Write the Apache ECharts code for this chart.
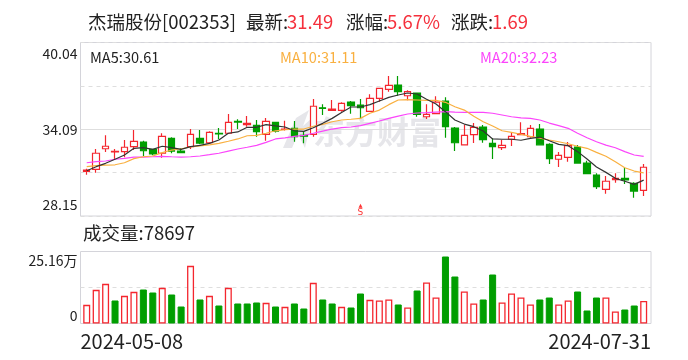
<!DOCTYPE html>
<html>
<head>
<meta charset="utf-8">
<style>html,body{margin:0;padding:0;background:#fff}#c{width:688px;height:360px}</style>
<script src="https://cdn.jsdelivr.net/npm/echarts@6/dist/echarts.min.js"></script>
</head>
<body>
<div id="c"></div>
<script>
const dates = ['2024-05-08','2024-05-09','2024-05-10','2024-05-13','2024-05-14','2024-05-15','2024-05-16','2024-05-17','2024-05-20','2024-05-21','2024-05-22','2024-05-23','2024-05-24','2024-05-27','2024-05-28','2024-05-29','2024-05-30','2024-05-31',
'2024-06-03','2024-06-04','2024-06-05','2024-06-06','2024-06-07','2024-06-11','2024-06-12','2024-06-13','2024-06-14','2024-06-17','2024-06-18','2024-06-19','2024-06-20','2024-06-21','2024-06-24','2024-06-25','2024-06-26','2024-06-27','2024-06-28',
'2024-07-01','2024-07-02','2024-07-03','2024-07-04','2024-07-05','2024-07-08','2024-07-09','2024-07-10','2024-07-11','2024-07-12','2024-07-15','2024-07-16','2024-07-17','2024-07-18','2024-07-19','2024-07-22','2024-07-23','2024-07-24','2024-07-25','2024-07-26','2024-07-29','2024-07-30','2024-07-31'];
const opens = [31.21,31.35,32.76,32.54,32.56,32.90,33.22,32.72,32.45,33.47,32.60,32.90,33.47,33.17,33.82,33.82,34.64,34.41,34.36,33.75,
34.57,34.08,34.16,33.67,33.75,35.57,35.39,35.39,35.96,35.75,35.32,36.21,36.83,37.12,36.39,36.58,34.95,35.16,36.03,34.18,
33.03,33.72,34.25,33.13,32.83,33.41,33.72,33.58,34.11,33.06,32.04,32.17,32.88,31.78,30.96,29.98,30.64,30.73,30.39,29.91];
const closes = [31.30,32.45,32.93,32.58,32.86,33.27,32.62,32.40,33.61,32.60,32.49,33.75,33.15,33.88,33.77,34.57,34.59,34.50,33.93,34.64,
33.97,34.11,33.58,33.62,35.67,35.53,35.48,35.87,35.71,35.57,36.21,36.90,37.10,36.67,36.67,35.12,35.12,35.96,34.27,33.17,
33.68,34.23,33.38,32.90,32.99,33.61,33.79,34.16,33.03,32.08,32.31,32.97,31.78,31.05,30.16,30.53,30.73,30.62,29.86,31.49];
const highs = [31.39,32.74,33.68,32.74,33.36,34.04,33.31,32.76,33.82,33.54,32.79,34.11,34.04,33.95,34.18,35.14,34.78,35.00,34.73,34.86,
34.61,34.68,34.66,33.97,36.17,35.80,36.10,35.94,36.03,36.17,36.49,36.92,37.74,37.74,36.76,36.62,35.80,36.35,36.28,34.25,
34.38,34.52,34.38,33.47,33.36,33.88,34.57,34.38,34.45,33.13,32.54,33.22,33.01,31.94,31.08,30.89,31.08,31.49,30.46,31.71];
const lows = [30.98,31.12,32.54,32.04,32.17,32.67,32.26,32.31,32.14,32.45,32.45,32.74,33.06,33.10,33.41,33.77,34.11,34.27,33.58,33.31,
33.88,34.01,33.24,33.13,33.58,35.07,35.34,35.30,35.16,34.84,35.30,35.98,36.67,36.39,36.08,34.95,34.80,35.16,33.51,32.60,
33.03,33.15,33.17,32.06,32.67,32.95,33.70,33.51,33.01,31.71,31.51,31.87,31.73,31.05,30.00,29.68,30.43,30.34,29.40,29.52];
const ma5 = [31.25,31.53,31.76,32.04,32.33,32.79,32.83,32.72,32.93,32.83,32.72,32.90,32.99,33.13,33.36,33.82,33.91,34.23,34.23,34.41,
34.32,34.25,33.99,33.95,34.20,34.50,34.84,35.25,35.62,35.62,35.78,36.03,36.28,36.44,36.58,36.51,36.15,35.82,35.30,34.73,
34.45,34.27,33.97,33.43,33.41,33.41,33.34,33.47,33.56,33.31,33.06,32.97,32.56,32.06,31.51,31.14,30.73,30.53,30.32,30.61];
const ma10 = [31.53,31.60,31.64,31.66,31.80,32.08,32.21,32.26,32.49,32.67,32.76,32.88,32.95,33.03,33.13,33.27,33.43,33.65,33.68,33.82,
33.99,34.06,34.11,34.11,34.30,34.43,34.61,34.73,34.78,34.84,35.19,35.41,35.78,36.10,36.12,36.10,36.08,36.08,35.94,35.64,
35.41,34.98,34.61,34.32,33.99,33.88,33.75,33.61,33.49,33.36,33.24,33.10,32.93,32.79,32.51,32.24,31.87,31.46,31.23,31.11];
const ma20 = [31.80,31.87,31.92,32.04,32.10,32.19,32.19,32.21,32.24,32.21,32.19,32.21,32.26,32.35,32.45,32.60,32.74,32.86,32.99,33.20,
33.43,33.51,33.61,33.68,33.82,33.97,34.11,34.20,34.25,34.34,34.50,34.66,34.84,35.00,35.14,35.21,35.23,35.27,35.30,35.27,
35.25,35.25,35.25,35.19,35.07,34.95,34.88,34.84,34.73,34.52,34.34,34.16,33.82,33.51,33.24,33.01,32.83,32.56,32.33,32.23];
const volumes = [6.52,11.76,13.86,8.04,9.67,11.06,11.88,10.83,12.46,10.13,5.94,20.15,8.39,9.67,6.29,12.46,6.99,6.99,7.34,7.22,
5.94,5.82,6.99,5.24,14.21,8.39,6.99,5.82,5.59,10.48,8.27,8.04,8.39,6.64,5.59,11.53,14.33,9.08,23.41,16.42,
11.18,6.99,8.39,17.12,7.34,10.48,9.08,6.64,8.39,9.08,6.64,8.04,11.18,4.54,9.08,9.08,4.19,4.89,6.29,7.87];
const volUp = [1,1,1,0,1,1,0,0,1,0,0,1,0,1,0,1,0,0,0,1,0,1,0,0,1,0,0,1,0,0,
1,1,1,0,1,0,1,1,0,0,1,1,0,0,1,1,1,1,0,0,1,1,0,0,0,1,1,0,0,1];
const priceTicks = ['28.15','','34.09','','40.04'];
const volTicks = ['0','','25.16万'];
const priceMin = 28.15, priceMax = 40.04, volMax = 25.16;
const signalDates = ['2024-06-19'];
const signalValues = [28.85];
const headerItems = [
  {t:'杰瑞股份[002353]', x:88, c:'#222'}, {t:'最新:', x:246, c:'#222'}, {t:'31.49', x:287, c:'#f5303c'},
  {t:'涨幅:', x:346, c:'#222'}, {t:'5.67%', x:387, c:'#f5303c'}, {t:'涨跌:', x:451, c:'#222'}, {t:'1.69', x:492, c:'#f5303c'}
];
const maLabels = [
  {t:'MA5:30.61', x:90, c:'#222'}, {t:'MA10:31.11', x:280, c:'#f9b040'}, {t:'MA20:32.23', x:480, c:'#fb45fb'}
];
const RED = '#f4262e', GREEN = '#009e00', FRAME = '#d4d4da', GRIDC = '#dedede';

const frame = {left:80.5, width:570.5};
const inner = {left:82, width:566.4};
const topBox = {top:42.5, height:173.5};
const volBox = {top:251.5, height:72};

const chart = echarts.init(document.getElementById('c'), null, {renderer:'canvas'});
const labelFont = {fontFamily:'"Noto Sans CJK SC","Noto Sans"', color:'#222'};

const graphic = [];
headerItems.forEach(h => graphic.push({type:'text', left:h.x, top:13, style:{text:h.t, fill:h.c, font:'18.5px "Noto Sans CJK SC","Noto Sans"'}}));
maLabels.forEach(h => graphic.push({type:'text', left:h.x, top:50, style:{text:h.t, fill:h.c, font:'14.6px "Noto Sans CJK SC","Noto Sans"'}}));
graphic.push({type:'text', left:83, top:224, style:{text:'成交量:78697', fill:'#222', font:'18.5px "Noto Sans CJK SC","Noto Sans"'}});
graphic.push({type:'text', left:313, top:116, z:-1, style:{text:'东方财富', fill:'#e6e6ea', font:'bold 32px "Noto Sans CJK SC"'}});
graphic.push({type:'polygon', z:-1, shape:{points:[[283,148],[296,118],[309,110],[303,126],[312,118],[305,148],[298,134],[292,148]]}, style:{fill:'#e6e6ea'}});

chart.setOption({
  animation:false,
  graphic,
  grid:[
    {left:frame.left, width:frame.width, top:topBox.top, height:topBox.height, show:true, borderColor:FRAME, borderWidth:1, backgroundColor:'transparent'},
    {left:frame.left, width:frame.width, top:volBox.top, height:volBox.height, show:true, borderColor:FRAME, borderWidth:1, backgroundColor:'transparent'},
    {left:inner.left, width:inner.width, top:topBox.top, height:topBox.height},
    {left:inner.left, width:inner.width, top:volBox.top, height:volBox.height}
  ],
  xAxis:[
    {type:'category', gridIndex:0, data:[dates[0],dates[59]], boundaryGap:false, axisLine:{show:false}, axisTick:{show:false}, axisLabel:{show:false}},
    {type:'category', gridIndex:1, data:[dates[0],dates[59]], boundaryGap:false, axisLine:{show:false}, axisTick:{show:false},
      axisLabel:{show:true, interval:0, alignMinLabel:'left', alignMaxLabel:'right', fontSize:20, margin:8, ...labelFont}},
    {type:'category', gridIndex:2, data:dates, show:false},
    {type:'category', gridIndex:3, data:dates, show:false}
  ],
  yAxis:[
    {type:'value', gridIndex:0, min:0, max:4, interval:1, axisLine:{show:false}, axisTick:{show:false},
      splitLine:{show:true, lineStyle:{color:GRIDC, type:[4,4]}},
      axisLabel:{margin:3, verticalAlignMaxLabel:'top', verticalAlignMinLabel:'bottom', fontSize:14, ...labelFont,
        formatter:(v,i)=> { const s=priceTicks[v]; if(!s) return ''; return v===4?'{t|'+s+'}':v===0?'{b|'+s+'}':'{m|'+s+'}'; },
        rich:{t:{fontSize:14,padding:[4,0,0,0]},b:{fontSize:14,padding:[0,0,4,0]},m:{fontSize:14}}}},
    {type:'value', gridIndex:0, min:0, max:2, interval:1, position:'right', axisLine:{show:false}, axisTick:{show:false}, axisLabel:{show:false},
      splitLine:{show:true, lineStyle:{color:['transparent',GRIDC,'transparent'], type:'solid'}}},
    {type:'value', gridIndex:1, min:0, max:2, interval:1, axisLine:{show:false}, axisTick:{show:false},
      splitLine:{show:true, lineStyle:{color:['transparent',GRIDC,'transparent'], type:[4,4]}},
      axisLabel:{margin:3, verticalAlignMaxLabel:'top', verticalAlignMinLabel:'bottom', fontSize:14, ...labelFont,
        formatter:v=> { const s=volTicks[v]; if(!s) return ''; return v===2?'{t|'+s+'}':'{b|'+s+'}'; },
        rich:{t:{fontSize:14,padding:[2,0,0,0]},b:{fontSize:14,padding:[0,0,1,0]}}}},
    {type:'value', gridIndex:2, min:priceMin, max:priceMax, show:false, splitLine:{show:false}},
    {type:'value', gridIndex:3, min:0, max:volMax, show:false, splitLine:{show:false}}
  ],
  series:[
    {type:'candlestick', xAxisIndex:2, yAxisIndex:3, barWidth:7,
      data:dates.map((d,i)=>[opens[i],closes[i],lows[i],highs[i]]),
      itemStyle:{color:'#fff', color0:GREEN, borderColor:RED, borderColor0:GREEN, borderWidth:1.2}},
    {type:'line', xAxisIndex:2, yAxisIndex:3, data:ma20, symbol:'none', lineStyle:{color:'#fb45fb', width:1.2}},
    {type:'line', xAxisIndex:2, yAxisIndex:3, data:ma10, symbol:'none', lineStyle:{color:'#f9b040', width:1.2}},
    {type:'line', xAxisIndex:2, yAxisIndex:3, data:ma5, symbol:'none', lineStyle:{color:'#333', width:1.2}},
    {type:'scatter', xAxisIndex:2, yAxisIndex:3, symbol:'triangle', symbolSize:4, itemStyle:{color:'#f00'},
      data:signalDates.map((d,i)=>[d,signalValues[i]]),
      label:{show:true, formatter:'S', position:'bottom', distance:0, color:'#f00', fontSize:9, fontFamily:'"DejaVu Sans"'}},
    {type:'bar', xAxisIndex:3, yAxisIndex:4, barWidth:7,
      data:volumes.map((v,i)=>({value:v, itemStyle: volUp[i] ? {color:'#fff', borderColor:RED, borderWidth:1.3} : {color:GREEN, borderColor:GREEN, borderWidth:1}}))}
  ]
});
</script>
</body>
</html>
